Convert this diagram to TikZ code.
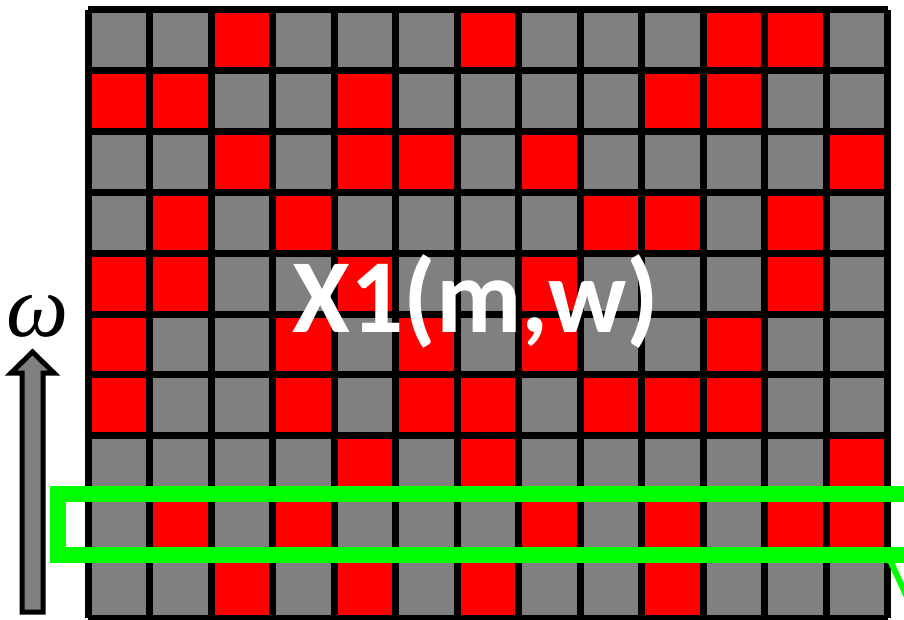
\documentclass[tikz,border=0pt]{standalone}
\usepackage{fontspec}
\newfontfamily\labelfont{Carlito}
\newfontfamily\axisfont{Liberation Serif}
\definecolor{cell0}{RGB}{128,128,128}
\definecolor{cell1}{RGB}{255,0,0}
\definecolor{selgreen}{RGB}{0,255,0}
\begin{document}
\begin{tikzpicture}[
        x=1pt, y=-1pt,
        gridline/.style={line width=7pt, black},
        selbox/.style={line width=16pt, selgreen},
        freqarrow/.style={fill=cell0, draw=black, line width=5pt, line join=miter},
        matlabel/.style={text=white, font=\labelfont\bfseries\fontsize{105}{105}\selectfont, anchor=base, inner sep=0pt}
    ]
    \useasboundingbox (0,0) rectangle (904,620);
    \clip (0,0) rectangle (904,620);

    % Matrix cells (0 = gray, 1 = red)
    \begin{scope}[shift={(88,10)}, x=61.5pt, y=-60.8pt]
    \foreach \row [count=\r from 0] in {
        {0,0,1,0,0,0,1,0,0,0,1,1,0},
        {1,1,0,0,1,0,0,0,0,1,1,0,0},
        {0,0,1,0,1,1,0,1,0,0,0,0,1},
        {0,1,0,1,0,0,0,0,1,1,0,1,0},
        {1,1,0,0,1,0,0,1,0,0,0,1,0},
        {1,0,0,1,0,1,0,1,0,0,1,0,0},
        {1,0,0,1,0,1,1,0,1,1,1,0,0},
        {0,0,0,0,1,0,1,0,0,0,0,0,1},
        {0,1,0,1,0,0,0,1,0,1,0,1,1},
        {0,0,1,0,1,0,1,0,0,1,0,0,0}} {
        \foreach \v [count=\c from 0] in \row
            \fill[fill=cell\v] (\c,\r) rectangle ++(1,1);
    }
    % Grid lines
    \foreach \i in {0,...,13}
        \draw[gridline] (\i,0) -- (\i,10);
    \foreach \j in {0,...,10}
        \draw[gridline] (0,\j) -- (13,\j);
    \end{scope}

    % Label
    \node[matlabel] (xlabel) at (476,332) {X1(m,w)};

    % Selected row
    \draw[selbox] (58,493.5) rectangle (960,554.5);
    \draw[selgreen, line width=6pt] (889,558) -- (912,608);

    % Frequency axis
    \draw[freqarrow] (22,612) -- (43,612) -- (43,373) -- (54,373) -- (32.5,352)
        -- (11,373) -- (22,373) -- cycle;
    \node[anchor=base, inner sep=0pt, font=\axisfont\itshape\fontsize{88}{88}\selectfont] (omega) at (38,336) {ω};
\end{tikzpicture}
\end{document}
